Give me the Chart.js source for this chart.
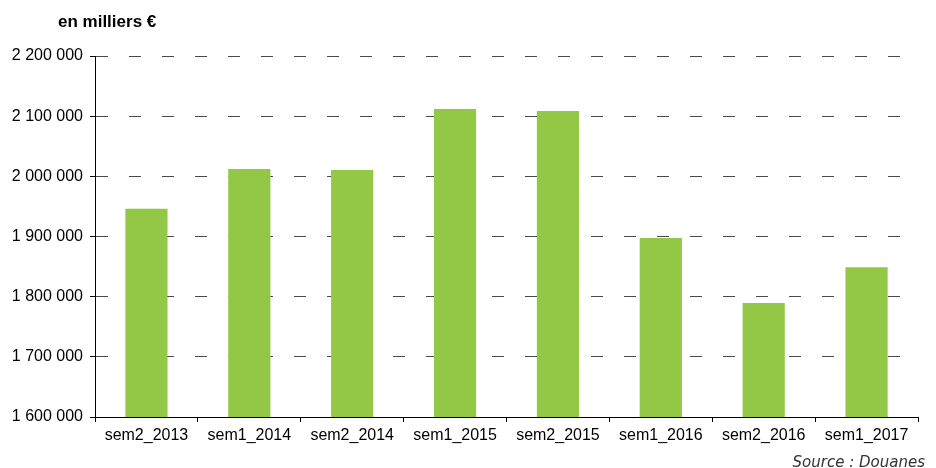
<!DOCTYPE html>
<html>
<head>
<meta charset="utf-8">
<script src="https://cdn.jsdelivr.net/npm/chart.js@4"></script>
<style>
  html, body { margin: 0; padding: 0; background: #fff; }
  #wrap { width: 936px; height: 468px; position: relative; }
</style>
</head>
<body>
<div id="wrap"><canvas id="semChart"></canvas></div>
<script>
const semestres = ["sem2_2013", "sem1_2014", "sem2_2014", "sem1_2015", "sem2_2015", "sem1_2016", "sem2_2016", "sem1_2017"];
const montants = [1946000, 2012000, 2010500, 2112000, 2108500, 1897500, 1789500, 1849000];
const unite = "en milliers €";
const source = "Source : Douanes";

function fmtEspace(v) {
  return String(Math.round(v)).replace(/\B(?=(\d{3})+(?!\d))/g, " ");
}

// titre en haut a gauche et source en bas a droite
const textesPlugin = {
  id: "textes",
  afterDraw(chart) {
    const ctx = chart.ctx;
    ctx.save();
    ctx.fillStyle = "#000";
    ctx.font = "bold 17px 'Liberation Sans', Arial, sans-serif";
    ctx.textAlign = "left";
    ctx.textBaseline = "alphabetic";
    ctx.fillText(unite, 58, 27);
    ctx.fillStyle = "#333";
    ctx.font = "italic 15px 'DejaVu Sans', Verdana, sans-serif";
    ctx.textAlign = "right";
    ctx.fillText(source, 925, 467);
    ctx.restore();
  },
};

const canvas = document.getElementById("semChart");
new Chart(canvas, {
  type: "bar",
  data: {
    labels: semestres,
    datasets: [
      {
        data: montants,
        backgroundColor: "#92c845",
        borderWidth: 0,
        barPercentage: 0.41,
        categoryPercentage: 1.0,
      },
    ],
  },
  options: {
    responsive: true,
    maintainAspectRatio: false,
    animation: false,
    layout: { padding: { top: 56, right: 18, left: 0, bottom: 0 } },
    plugins: {
      legend: { display: false },
      tooltip: { enabled: false },
    },
    scales: {
      x: {
        afterFit: (scale) => { scale.height = 51; },
        grid: {
          display: true,
          drawOnChartArea: false,
          drawTicks: true,
          tickLength: 5,
          tickColor: "#000",
        },
        border: { display: true, color: "#000", width: 1 },
        ticks: {
          color: "#000",
          padding: 4,
          maxRotation: 0,
          font: { family: "'Liberation Sans', Arial, sans-serif", size: 16 },
        },
      },
      y: {
        min: 1600000,
        max: 2200000,
        afterFit: (scale) => { scale.width = 95; },
        grid: {
          color: "#4a4a4a",
          lineWidth: 1,
          drawTicks: true,
          tickLength: 5,
          tickColor: "#000",
        },
        border: { display: true, color: "#000", width: 1, dash: [12, 21] },
        ticks: {
          stepSize: 100000,
          color: "#000",
          padding: 7,
          font: { family: "'Liberation Sans', Arial, sans-serif", size: 16 },
          callback: (v) => fmtEspace(v),
        },
      },
    },
  },
  plugins: [textesPlugin],
});
</script>
</body>
</html>
